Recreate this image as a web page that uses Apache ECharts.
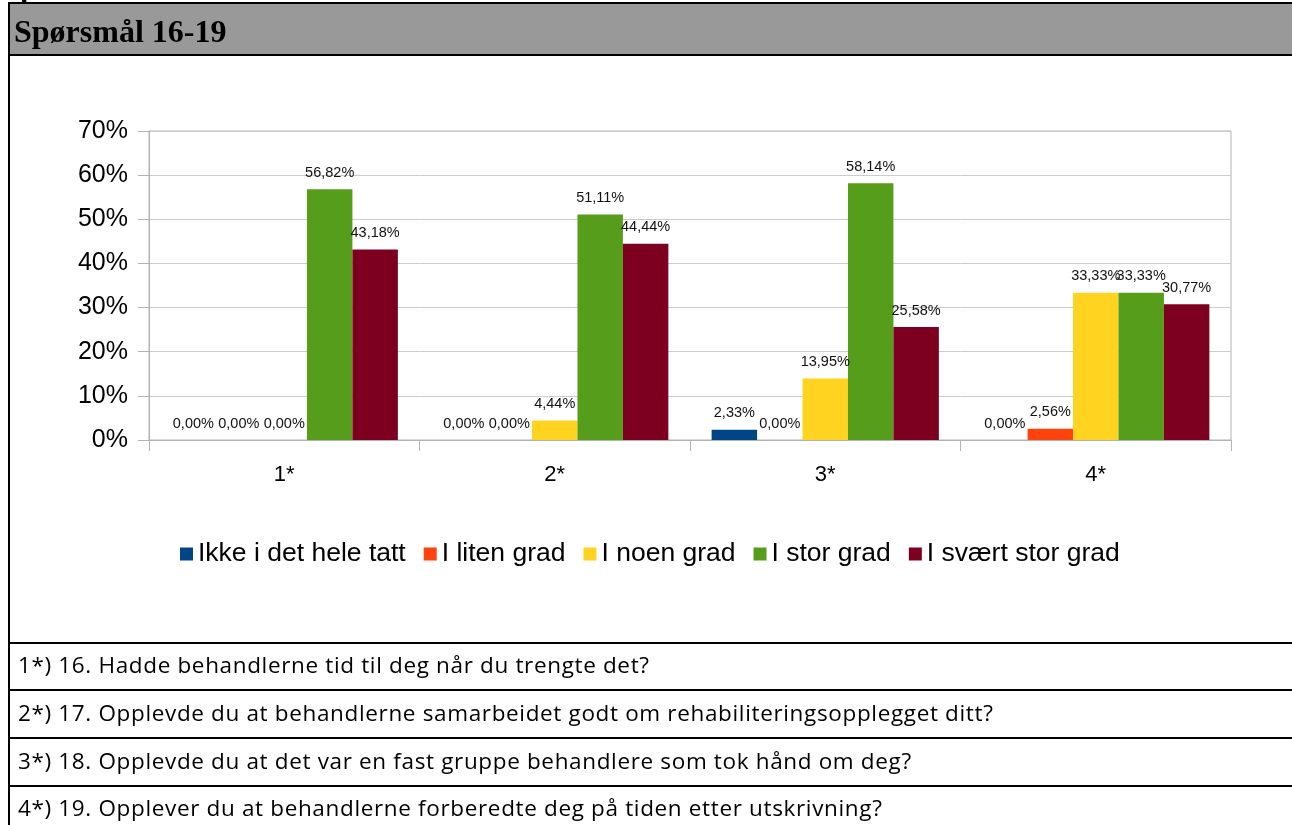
<!DOCTYPE html>
<html>
<head>
<meta charset="utf-8">
<script src="https://cdn.jsdelivr.net/npm/echarts@6/dist/echarts.min.js"></script>
<style>
  html, body { margin: 0; padding: 0; background: #fff; width: 1292px; height: 825px; overflow: hidden; }
  #chart { position: absolute; left: 0; top: 0; width: 1292px; height: 825px; }
  .ov { position: absolute; pointer-events: none; }
  #clip { left: 20px; top: -29px; font: bold 31px "Liberation Serif", serif; color: #000; }
  #header { left: 8px; top: 2px; width: 1300px; height: 50px; background: #999999; border-top: 2px solid #000; border-bottom: 2px solid #000; }
  #htitle { left: 14px; top: 15px; font: bold 32px "Liberation Serif", serif; color: #000; line-height: 32px; white-space: nowrap; }
  #lborder { left: 8px; top: 2px; width: 2px; height: 830px; background: #000; }
  .hl { left: 8px; width: 1300px; height: 2px; background: #000; }
  .row { left: 18px; font: 22.5px "Open Sans", Lato, sans-serif; letter-spacing: 0.65px; color: #000; white-space: nowrap; line-height: 24px; }
</style>
</head>
<body>
<div id="chart"></div>
<div class="ov" id="clip">p</div>
<div class="ov" id="header"></div>
<div class="ov" id="htitle">Spørsmål 16-19</div>
<div class="ov" id="lborder"></div>
<div class="ov hl" style="top:642px"></div>
<div class="ov hl" style="top:689px"></div>
<div class="ov hl" style="top:737px"></div>
<div class="ov hl" style="top:785px"></div>
<div class="ov row" id="r1" style="top:653px"></div>
<div class="ov row" id="r2" style="top:701px"></div>
<div class="ov row" id="r3" style="top:749px"></div>
<div class="ov row" id="r4" style="top:796px"></div>
<script>
// ---- data ----
const categories = ['1*', '2*', '3*', '4*'];
const seriesNames = ['Ikke i det hele tatt', 'I liten grad', 'I noen grad', 'I stor grad', 'I svært stor grad'];
const ikkeIDetHeleTatt = [0, 0, 2.33, 0];
const iLitenGrad = [0, 0, 0, 2.56];
const iNoenGrad = [0, 4.44, 13.95, 33.33];
const iStorGrad = [56.82, 51.11, 58.14, 33.33];
const iSvaertStorGrad = [43.18, 44.44, 25.58, 30.77];
const yTicks = ['0%', '10%', '20%', '30%', '40%', '50%', '60%', '70%'];
const questions = [
  '1*) 16. Hadde behandlerne tid til deg når du trengte det?',
  '2*) 17. Opplevde du at behandlerne samarbeidet godt om rehabiliteringsopplegget ditt?',
  '3*) 18. Opplevde du at det var en fast gruppe behandlere som tok hånd om deg?',
  '4*) 19. Opplever du at behandlerne forberedte deg på tiden etter utskrivning?'
];
const colors = ['#004586', '#ff420e', '#ffd320', '#579d1c', '#7e0021'];

questions.forEach((q, i) => { document.getElementById('r' + (i + 1)).textContent = q; });

const allData = [ikkeIDetHeleTatt, iLitenGrad, iNoenGrad, iStorGrad, iSvaertStorGrad];

const chart = echarts.init(document.getElementById('chart'), null, { renderer: 'canvas' });
chart.setOption({
  animation: false,
  color: colors,
  textStyle: { fontFamily: '"Liberation Sans", Arial, sans-serif' },
  grid: { left: 149, right: 61, top: 131, bottom: 385, show: true, borderColor: '#b3b3b3', borderWidth: 1, containLabel: false },
  legend: {
    left: 175, top: 535,
    icon: 'rect', itemWidth: 13, itemHeight: 13, itemGap: 18,
    textStyle: { fontSize: 26.5, color: '#000', lineHeight: 28, fontFamily: '"Liberation Sans", Arial, sans-serif' },
    data: seriesNames
  },
  xAxis: {
    type: 'category', data: categories,
    axisLine: { show: true, lineStyle: { color: '#b3b3b3', width: 1 } },
    axisTick: { show: true, length: 11, alignWithLabel: false, lineStyle: { color: '#b3b3b3' } },
    axisLabel: { fontSize: 22, color: '#000', margin: 24 },
    splitLine: { show: false }
  },
  yAxis: {
    type: 'value', min: 0, max: 70, interval: 10,
    axisLine: { show: true, lineStyle: { color: '#b3b3b3', width: 1 } },
    axisTick: { show: true, length: 11, lineStyle: { color: '#b3b3b3' } },
    axisLabel: { fontSize: 25, color: '#000', margin: 21, padding: [4, 0, 0, 0], formatter: v => yTicks[Math.round(v / 10)] },
    splitLine: { show: true, lineStyle: { color: '#cccccc', width: 1 } }
  },
  series: seriesNames.map((name, i) => ({
    name, type: 'bar', data: allData[i],
    barGap: '0%', barCategoryGap: '16%',
    label: {
      show: true, position: 'top', distance: 9,
      fontSize: 14.5, color: '#111',
      formatter: p => p.value.toFixed(2).replace('.', ',') + '%'
    }
  }))
});
</script>
</body>
</html>
